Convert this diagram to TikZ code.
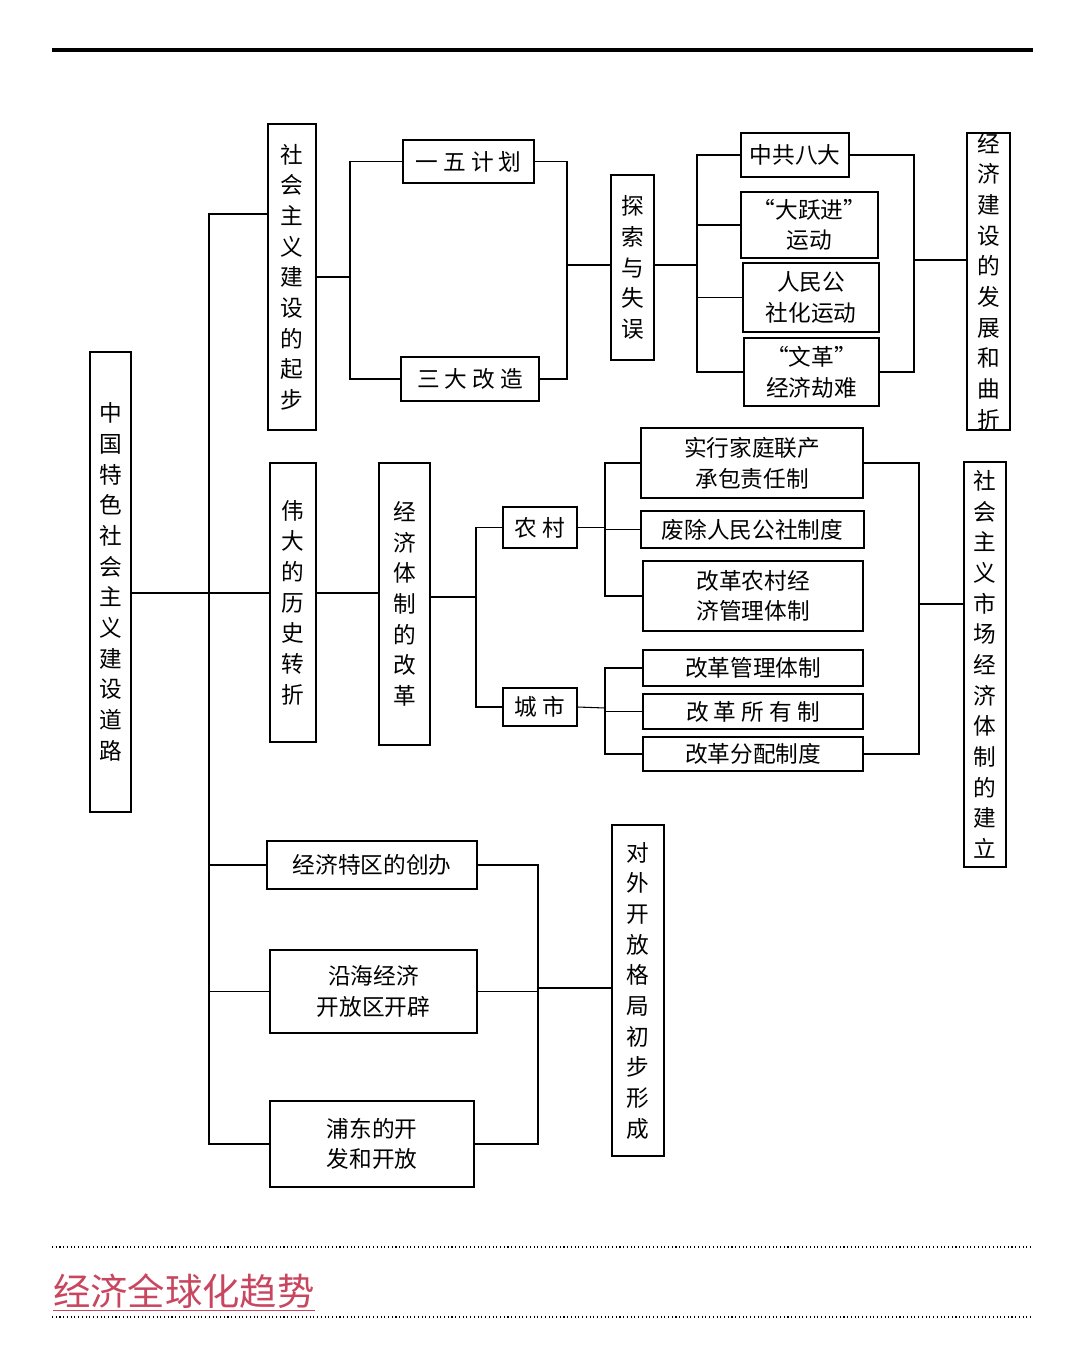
\documentclass[tikz,border=0pt]{standalone}
\usepackage{fontspec}
\newfontfamily\cjk{Noto Sans CJK SC}
\usetikzlibrary{positioning,calc}
\definecolor{titlepink}{RGB}{200,70,95}

\begin{document}
\begin{tikzpicture}[x=0.75pt,y=-0.75pt,
    box/.style 2 args={draw, thick, inner sep=0pt, align=center,
        minimum width=#1*0.75pt, minimum height=#2*0.75pt,
        font=\cjk\fontsize{17}{23}\selectfont},
    link/.style={thick}]
\useasboundingbox (0,0) rectangle (1073,1358);

% top rule
\draw[line width=3pt] (52,50) -- (1033,50);

% left main column
\node[box={41}{460}] (zhongguo) at (110.5,582) {中\\国\\特\\色\\社\\会\\主\\义\\建\\设\\道\\路};
\node[box={48}{306}] (qibu) at (292,277) {社\\会\\主\\义\\建\\设\\的\\起\\步};
\node[box={46}{279}] (weida) at (293,602.5) {伟\\大\\的\\历\\史\\转\\折};
\node[box={210}{48}] (tequ) at (372,865) {经济特区的创办};
\node[box={207}{83}] (yanhai) at (373.5,991.5) {沿海经济\\开放区开辟};
\node[box={204}{86}] (pudong) at (372,1144) {浦东的开\\发和开放};

% first row
\node[box={131}{43}] (yiwu) at (468.5,161.5) {一 五 计 划};
\node[box={138}{44}] (sanda) at (470,379) {三 大 改 造};
\node[box={43}{185}] (tansuo) at (632.5,267.5) {探\\索\\与\\失\\误};
\node[box={108}{44}] (bada) at (795,155) {中共八大};
\node[box={137}{66}] (dayuejin) at (809.5,225) {“大跃进”\\运动};
\node[box={136}{69}] (renmin) at (811,297.5) {人民公\\社化运动};
\node[box={135}{68}] (wenge) at (811.5,372) {“文革”\\经济劫难};
\node[box={43}{297}] (fazhan) at (988.5,281.5) {经\\济\\建\\设\\的\\发\\展\\和\\曲\\折};

% second row
\node[box={51}{282}] (jingji) at (404.5,604) {经\\济\\体\\制\\的\\改\\革};
\node[box={74}{41}] (nongcun) at (540,527.5) {农 村};
\node[box={74}{38}] (chengshi) at (540,707) {城 市};
\node[box={222}{70}] (jiating) at (752,463) {实行家庭联产\\承包责任制};
\node[box={223}{37}] (feichu) at (752.5,529.5) {废除人民公社制度};
\node[box={220}{70}] (nongjing) at (753,596) {改革农村经\\济管理体制};
\node[box={220}{36}] (guanli) at (753,668) {改革管理体制};
\node[box={220}{35}] (suoyou) at (753,711.5) {改 革 所 有 制};
\node[box={220}{34}] (fenpei) at (753,754) {改革分配制度};
\node[box={42}{405}] (shichang) at (985,664.5) {社\\会\\主\\义\\市\\场\\经\\济\\体\\制\\的\\建\\立};

% third row
\node[box={52}{331}] (duiwai) at (638,990.5) {对\\外\\开\\放\\格\\局\\初\\步\\形\\成};

% junctions
\coordinate (s) at (209,593);
\coordinate (top) at (209,214);
\coordinate (j1) at (350,277);
\coordinate (j7) at (567,265);
\coordinate (j6) at (697,265);
\coordinate (j5) at (914,260);
\coordinate (j9) at (476,597);
\coordinate (j2) at (605,530);
\coordinate (j3) at (605,708);
\coordinate (j4) at (919,604);
\coordinate (j8) at (538,988);

% spine
\draw[link] (qibu.west |- top) -| (s) |- (pudong.west);
\draw[link] (zhongguo.east |- s) -- (weida.west |- s);
\draw[link] (tequ.west) -- (tequ.west -| s);
\draw[link] (yanhai.west) -- (yanhai.west -| s);

% first row links
\draw[link] (qibu.east) -- (j1);
\draw[link] (yiwu.west) -| (j1) |- (sanda.west);
\draw[link] (yiwu.east) -| (j7) |- (sanda.east);
\draw[link] (j7) -- (tansuo.west |- j7);
\draw[link] (tansuo.east |- j6) -- (j6);
\draw[link] (bada.west) -| (j6) |- (wenge.west);
\draw[link] (dayuejin.west) -- (dayuejin.west -| j6);
\draw[link] (renmin.west) -- (renmin.west -| j6);
\draw[link] (bada.east) -| (j5) |- (wenge.east);
\draw[link] (j5) -- (fazhan.west |- j5);

% second row links
\draw[link] (weida.east |- s) -- (jingji.west |- s);
\draw[link] (jingji.east |- j9) -- (j9);
\draw[link] (nongcun.west) -| (j9) |- (chengshi.west);
\draw[link] (nongcun.east) -- (nongcun.east -| j2);
\draw[link] (jiating.west) -| (j2) |- (nongjing.west);
\draw[link] (feichu.west) -- (feichu.west -| j2);
\draw[link] (chengshi.east) -- (j3);
\draw[link] (guanli.west) -| (j3) |- (fenpei.west);
\draw[link] (suoyou.west) -- (suoyou.west -| j3);
\draw[link] (jiating.east) -| (j4) |- (fenpei.east);
\draw[link] (j4) -- (shichang.west |- j4);

% third row links
\draw[link] (tequ.east) -| (j8) |- (pudong.east);
\draw[link] (yanhai.east) -- (yanhai.east -| j8);
\draw[link] (j8) -- (duiwai.west |- j8);

% footer
\draw[dotted, thick] (52,1247) -- (1033,1247);
\node[anchor=west, inner sep=0pt, text=titlepink, font=\cjk\fontsize{28}{32}\selectfont] (quanqiu) at (53,1292) {\underline{经济全球化趋势}};
\draw[dotted, thick] (52,1317) -- (1033,1317);
\end{tikzpicture}
\end{document}
